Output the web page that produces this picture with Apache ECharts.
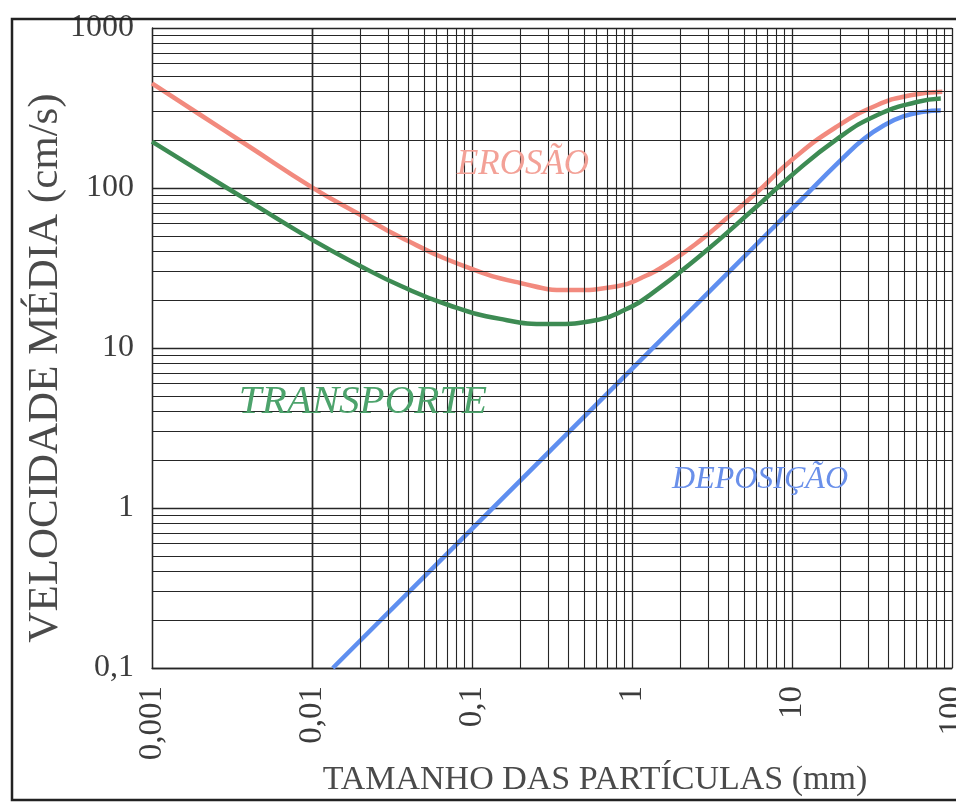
<!DOCTYPE html>
<html>
<head>
<meta charset="utf-8">
<script src="https://cdn.jsdelivr.net/npm/echarts@6/dist/echarts.min.js"></script>
<style>
html,body{margin:0;padding:0;background:#fff;}
#chart{width:956px;height:805px;}
</style>
</head>
<body>
<div id="chart"></div>
<script>
// ---- data ----
const xTickValues = [0.001, 0.01, 0.1, 1, 10, 100];
const xTickLabels = ['0,001', '0,01', '0,1', '1', '10', '100'];
const yTickValues = [0.1, 1, 10, 100, 1000];
const yTickLabels = ['0,1', '1', '10', '100', '1000'];
const minorMultiples = [2, 3, 4, 5, 6, 7, 8, 9];
const xDecades = [0.001, 0.01, 0.1, 1, 10];
const yDecades = [0.1, 1, 10, 100];

const erosionSize = [0.001, 0.002, 0.004, 0.01, 0.02, 0.036, 0.093, 0.2, 0.4, 0.81, 1.15, 1.66, 2.7, 4.0, 5.9, 10, 18.6, 33.9, 55, 87];
const erosionVel  = [450, 287, 183, 101, 68, 49, 32, 25.5, 23, 24.3, 27.5, 33.5, 47.4, 66, 92, 150, 238, 329, 380, 400];

const transportSize = [0.001, 0.002, 0.004, 0.01, 0.02, 0.036, 0.072, 0.15, 0.31, 0.63, 0.89, 1.29, 2.69, 5.75, 9.55, 19.1, 33.9, 60.3, 85.1];
const transportVel  = [195, 127, 83, 47.6, 32.6, 24.4, 18.5, 15.2, 14.1, 15.1, 17.2, 21.4, 38, 73.6, 116, 202, 285, 345, 363];

const depositionSize = [0.0135, 0.1, 1, 3.56, 10, 20.7, 28.2, 38, 50.1, 66, 85.1];
const depositionVel  = [0.1, 0.74, 7.4, 26.4, 74, 153, 203, 248, 281, 299, 305];

const fontSerif = '"Liberation Serif", "DejaVu Serif", serif';
const gridColor = '#262626';

function pairs(xs, ys) { return xs.map((x, i) => [x, ys[i]]); }
function fmt(values, labels) {
  return function (v) {
    for (let i = 0; i < values.length; i++) {
      if (Math.abs(Math.log10(v) - Math.log10(values[i])) < 1e-6) return labels[i];
    }
    return '';
  };
}

const minorX = [];
xDecades.forEach(d => minorMultiples.forEach(m => minorX.push({ xAxis: +(d * m).toPrecision(6) })));
const minorY = [];
yDecades.forEach(d => minorMultiples.forEach(m => minorY.push({ yAxis: +(d * m).toPrecision(6) })));

const chart = echarts.init(document.getElementById('chart'), null, { renderer: 'canvas' });
chart.setOption({
  backgroundColor: '#ffffff',
  animation: false,
  grid: { left: 152, right: 4, top: 28, bottom: 137, containLabel: false, outerBoundsMode: 'none' },
  xAxis: {
    type: 'log', logBase: 10, min: 0.001, max: 100,
    axisLine: { show: true, lineStyle: { color: gridColor, width: 1.3 } },
    axisTick: { show: false },
    splitLine: { show: true, lineStyle: { color: gridColor, width: 1.3 } },
    axisLabel: {
      rotate: 90, margin: 18, hideOverlap: false,
      fontFamily: fontSerif, fontSize: 33, color: '#3c3c3c',
      formatter: fmt(xTickValues, xTickLabels)
    }
  },
  yAxis: {
    type: 'log', logBase: 10, min: 0.1, max: 1000,
    axisLine: { show: true, lineStyle: { color: gridColor, width: 1.3 } },
    axisTick: { show: false },
    splitLine: { show: true, lineStyle: { color: gridColor, width: 1.3 } },
    axisLabel: {
      margin: 18,
      fontFamily: fontSerif, fontSize: 32, color: '#3c3c3c',
      formatter: fmt(yTickValues, yTickLabels)
    }
  },
  series: [
    {
      name: 'grid', type: 'line', data: [[0.001, 0.1]], symbol: 'none',
      lineStyle: { opacity: 0 }, silent: true, z: 1,
      markLine: {
        silent: true, symbol: ['none', 'none'], label: { show: false },
        lineStyle: { color: gridColor, width: 1.1, type: 'solid' },
        emphasis: { disabled: true },
        data: minorX.concat(minorY)
      }
    },
    {
      name: 'EROSÃO', type: 'line', data: pairs(erosionSize, erosionVel),
      smooth: 0.5, symbol: 'none', z: 4,
      lineStyle: { color: '#f28a7e', width: 4.5 }
    },
    {
      name: 'TRANSPORTE', type: 'line', data: pairs(transportSize, transportVel),
      smooth: 0.5, symbol: 'none', z: 5,
      lineStyle: { color: '#3d8b53', width: 4.5 }
    },
    {
      name: 'DEPOSIÇÃO', type: 'line', data: pairs(depositionSize, depositionVel),
      smooth: 0.5, symbol: 'none', z: 3,
      lineStyle: { color: '#5f8ff0', width: 4.5 }
    }
  ],
  graphic: [
    { type: 'rect', silent: true, z: 100,
      shape: { x: 12, y: 19, width: 980, height: 781 },
      style: { fill: 'none', stroke: '#222', lineWidth: 2.5 } },
    { type: 'text', z: 100, x: 46, y: 368, rotation: Math.PI / 2,
      style: { text: 'VELOCIDADE MÉDIA (cm/s)', font: '43px ' + fontSerif, fill: '#4a4a4a',
               textAlign: 'center', textVerticalAlign: 'middle' } },
    { type: 'text', z: 100, x: 595, y: 780,
      style: { text: 'TAMANHO DAS PARTÍCULAS (mm)', font: '34px ' + fontSerif, fill: '#4a4a4a',
               textAlign: 'center', textVerticalAlign: 'middle' } },
    { type: 'text', z: 100, x: 523, y: 165,
      style: { text: 'EROSÃO', font: 'italic 35px ' + fontSerif, fill: '#f3a197',
               textAlign: 'center', textVerticalAlign: 'middle' } },
    { type: 'text', z: 100, x: 363, y: 402,
      style: { text: 'TRANSPORTE', font: 'italic 41px ' + fontSerif, fill: '#4da36c',
               textAlign: 'center', textVerticalAlign: 'middle' } },
    { type: 'text', z: 100, x: 760, y: 480,
      style: { text: 'DEPOSIÇÃO', font: 'italic 32px ' + fontSerif, fill: '#6a90ea',
               textAlign: 'center', textVerticalAlign: 'middle' } }
  ]
});
</script>
</body>
</html>
